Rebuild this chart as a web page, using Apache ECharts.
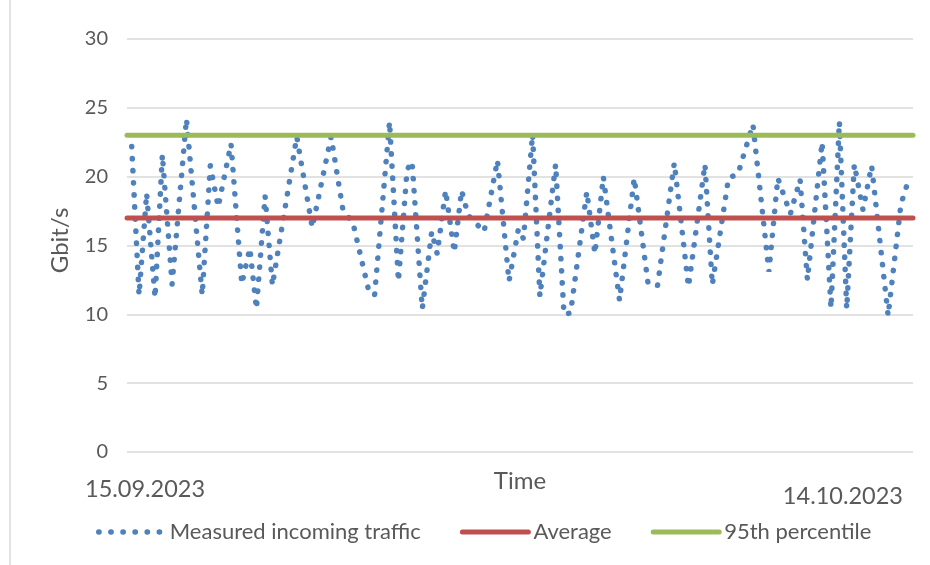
<!DOCTYPE html>
<html>
<head>
<meta charset="utf-8">
<script src="https://cdn.jsdelivr.net/npm/echarts@6/dist/echarts.min.js"></script>
<style>
  html, body { margin: 0; padding: 0; background: #fff; }
  #chart { width: 930px; height: 565px; }
</style>
</head>
<body>
<div id="chart"></div>
<script>
// days since 15.09.2023 (turning points of the measured curve)
var dayOffsets = [
  0.18, 0.46, 0.75, 1.07, 1.35, 1.72, 2.27, 2.87, 3.18, 3.48,
  3.97, 4.38, 4.69, 4.94, 5.27, 5.55, 6.48, 7.07, 7.79, 8.24,
  8.63, 9.24, 9.45, 10.02, 10.36, 10.69, 10.88, 11.27, 11.63, 11.84,
  12.16, 12.49, 12.77, 13.02, 13.63, 14.14, 14.58, 14.94, 15.13, 15.48,
  15.76, 16.36, 16.68, 16.93, 17.55, 17.86, 18.18, 18.80, 19.36, 19.89,
  20.25, 20.89, 21.43, 22.06, 22.34, 22.96, 23.32, 23.89, 24.50, 24.84,
  25.32, 25.69, 25.97, 26.53, 26.87, 27.19, 27.47, 27.76, 28.09, 28.42,
  29.05, 29.54, 29.82
];
// Gbit/s
var trafficGbps = [
  22.2, 11.4, 18.8, 11.2, 21.6, 12.2, 24.2, 11.4, 20.8, 17.8,
  22.4, 12.2, 14.8, 10.4, 18.6, 12.1, 22.9, 16.3, 22.9, 17.6,
  16.6, 11.6, 11.4, 24.0, 12.4, 20.5, 21.1, 10.4, 16.0, 14.4,
  19.0, 14.5, 19.0, 17.2, 16.0, 21.2, 12.4, 16.2, 15.5, 23.1,
  11.3, 20.9, 10.0, 10.1, 18.9, 14.4, 20.0, 11.0, 19.9, 12.2,
  12.1, 21.0, 12.0, 20.9, 12.15, 19.9, 20.2, 23.8, 13.1, 19.9,
  17.3, 19.8, 12.5, 22.5, 10.45, 24.0, 10.4, 20.9, 17.6, 20.8,
  9.9, 18.0, 19.7
];
var averageGbps = 17;
var percentile95Gbps = 23;
var seriesNames = ["Measured incoming traffic", "Average", "95th percentile"];
var dateLabels = ["15.09.2023", "14.10.2023"];
var dayRange = [0, 30];

var FONT = "Lato, 'Noto Sans', sans-serif";
var GREY = "#595959";
var DOTS = { color: "#4F81BD", width: 5.5, type: [0.3, 11.8], cap: "round" };

var chart = echarts.init(document.getElementById("chart"));

var trafficData = dayOffsets.map(function (d, i) { return [d, trafficGbps[i]]; });
var avgData = [[dayRange[0], averageGbps], [dayRange[1], averageGbps]];
var p95Data = [[dayRange[0], percentile95Gbps], [dayRange[1], percentile95Gbps]];

var option = {
  animation: false,
  grid: { left: 127, right: 17, top: 39, bottom: 113 },
  xAxis: {
    type: "value",
    min: dayRange[0],
    max: dayRange[1],
    name: "Time",
    nameLocation: "middle",
    nameGap: 17,
    nameTextStyle: { fontFamily: FONT, fontSize: 24, color: GREY },
    axisLine: { show: false },
    axisTick: { show: false },
    axisLabel: { show: false },
    splitLine: { show: false }
  },
  yAxis: {
    type: "value",
    min: 0,
    max: 30,
    interval: 5,
    name: "Gbit/s",
    nameLocation: "middle",
    nameGap: 55,
    nameRotate: 90,
    nameTextStyle: { fontFamily: FONT, fontSize: 24, color: GREY, padding: [0, 0, 0, 10] },
    axisLine: { show: false },
    axisTick: { show: false },
    axisLabel: { fontFamily: FONT, fontSize: 20, color: GREY, margin: 19 },
    splitLine: { lineStyle: { color: "#d9d9d9", width: 1.5 } }
  },
  legend: {
    left: 91,
    top: 516,
    itemWidth: 66,
    itemHeight: 5,
    itemGap: 39,
    itemStyle: { opacity: 0 },
    lineStyle: { width: 5, cap: "round" },
    textStyle: { fontFamily: FONT, fontSize: 22, color: GREY },
    data: [
      { name: seriesNames[0], lineStyle: DOTS },
      { name: seriesNames[1] },
      { name: seriesNames[2] }
    ]
  },
  graphic: [
    {
      type: "text", left: 85, top: 477,
      style: { text: dateLabels[0], font: "23.5px " + FONT, fill: GREY }
    },
    {
      type: "text", right: 27, top: 484,
      style: { text: dateLabels[1], font: "23.5px " + FONT, fill: GREY }
    },
    {
      type: "line", shape: { x1: 10, y1: 0, x2: 10, y2: 565 },
      style: { stroke: "#d9d9d9", lineWidth: 1.5 }
    }
  ],
  series: [
    {
      name: seriesNames[0],
      type: "line",
      data: trafficData,
      symbol: "none",
      lineStyle: DOTS,
      itemStyle: { color: "#4F81BD" }
    },
    {
      name: seriesNames[1],
      type: "line",
      data: avgData,
      symbol: "none",
      clip: false,
      lineStyle: { color: "#C0504D", width: 5, cap: "round" },
      itemStyle: { color: "#C0504D" }
    },
    {
      name: seriesNames[2],
      type: "line",
      data: p95Data,
      symbol: "none",
      clip: false,
      lineStyle: { color: "#9BBB59", width: 5, cap: "round" },
      itemStyle: { color: "#9BBB59" }
    }
  ]
};

chart.setOption(option);
</script>
</body>
</html>
